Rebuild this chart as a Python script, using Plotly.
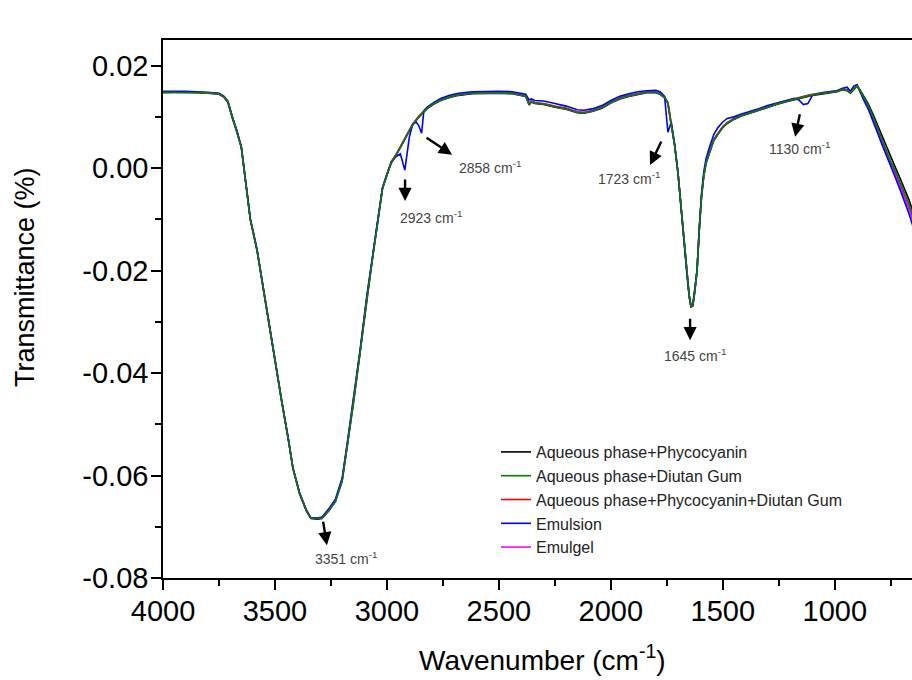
import plotly.graph_objects as go

# Wavenumber (cm^-1), descending
wavenumber = [4000, 3900, 3800, 3750, 3730, 3710, 3690, 3670, 3650, 3630, 3610,
              3580, 3540, 3500, 3470, 3440, 3420, 3390, 3360, 3340, 3310,
              3290, 3260, 3230, 3200, 3175, 3150, 3120, 3090, 3060, 3040,
              3020, 3000, 2980, 2960, 2940, 2920, 2900, 2885, 2870, 2858,
              2845, 2835, 2820, 2790, 2760, 2720, 2680, 2620, 2560, 2500,
              2440, 2380, 2365, 2355, 2340, 2300, 2250, 2200, 2150, 2120,
              2080, 2040, 2000, 1960, 1920, 1880, 1840, 1800, 1780, 1760,
              1745, 1730, 1715, 1700, 1690, 1680, 1670, 1660, 1650, 1642,
              1634, 1625, 1615, 1605, 1595, 1585, 1575, 1560, 1540, 1520,
              1500, 1480, 1450, 1420, 1380, 1340, 1300, 1260, 1220, 1180,
              1160, 1140, 1120, 1100, 1060, 1020, 990, 965, 945, 930,
              915, 900, 885, 870, 850, 830, 810, 790, 770, 750,
              730, 710, 690, 670, 650]

aq_phycocyanin = [
    0.0147, 0.0148, 0.0146, 0.0144, 0.0139, 0.0128, 0.0097, 0.0071, 0.0040, -0.0031, -0.0101,
    -0.0161, -0.0271, -0.0376, -0.0456, -0.0531, -0.0586, -0.0636, -0.0669, -0.0684, -0.0685,
    -0.0684, -0.0669, -0.0651, -0.0611, -0.0536, -0.0461, -0.0360, -0.0256, -0.0161, -0.0101,
    -0.0041, -0.0014, 0.0011, 0.0024, 0.0041, 0.0057, 0.0072, 0.0084, 0.0093, 0.0099,
    0.0105, 0.0110, 0.0116, 0.0125, 0.0132, 0.0138, 0.0142, 0.0145, 0.0146, 0.0146,
    0.0145, 0.0140, 0.0123, 0.0129, 0.0126, 0.0124, 0.0119, 0.0115, 0.0108, 0.0107,
    0.0111, 0.0117, 0.0127, 0.0135, 0.0140, 0.0144, 0.0147, 0.0147, 0.0144, 0.0137,
    0.0126, 0.0084, 0.0044, -0.0011, -0.0061, -0.0116, -0.0161, -0.0211, -0.0251, -0.0271,
    -0.0269, -0.0241, -0.0201, -0.0121, -0.0056, -0.0016, 0.0009, 0.0029, 0.0054, 0.0067,
    0.0079, 0.0087, 0.0095, 0.0101, 0.0107, 0.0113, 0.0119, 0.0124, 0.0129, 0.0134,
    0.0136, 0.0138, 0.0140, 0.0142, 0.0145, 0.0147, 0.0149, 0.0153, 0.0151, 0.0146,
    0.0154, 0.0160, 0.0151, 0.0140, 0.0125, 0.0106, 0.0085, 0.0064, 0.0042, 0.0020,
    0.0002, -0.0018, -0.0038, -0.0060, -0.0086]

aq_diutan = [
    0.0148, 0.0148, 0.0147, 0.0145, 0.0140, 0.0129, 0.0098, 0.0072, 0.0040, -0.0030, -0.0100,
    -0.0160, -0.0270, -0.0375, -0.0455, -0.0530, -0.0585, -0.0635, -0.0668, -0.0683, -0.0684,
    -0.0683, -0.0668, -0.0650, -0.0610, -0.0535, -0.0460, -0.0360, -0.0255, -0.0160, -0.0100,
    -0.0040, -0.0013, 0.0012, 0.0025, 0.0042, 0.0058, 0.0073, 0.0085, 0.0094, 0.0100,
    0.0106, 0.0111, 0.0117, 0.0126, 0.0133, 0.0139, 0.0143, 0.0146, 0.0147, 0.0147,
    0.0146, 0.0141, 0.0124, 0.0130, 0.0127, 0.0125, 0.0120, 0.0116, 0.0109, 0.0108,
    0.0112, 0.0118, 0.0128, 0.0136, 0.0141, 0.0145, 0.0148, 0.0148, 0.0145, 0.0138,
    0.0128, 0.0085, 0.0045, -0.0010, -0.0060, -0.0115, -0.0160, -0.0210, -0.0250, -0.0270,
    -0.0268, -0.0240, -0.0200, -0.0120, -0.0055, -0.0015, 0.0010, 0.0030, 0.0055, 0.0068,
    0.0080, 0.0088, 0.0096, 0.0102, 0.0108, 0.0114, 0.0120, 0.0125, 0.0130, 0.0135,
    0.0137, 0.0139, 0.0141, 0.0143, 0.0146, 0.0148, 0.0150, 0.0154, 0.0152, 0.0147,
    0.0155, 0.0161, 0.0150, 0.0138, 0.0122, 0.0102, 0.0080, 0.0058, 0.0035, 0.0013,
    -0.0005, -0.0025, -0.0045, -0.0068, -0.0095]

aq_phyco_diutan = [
    0.0148, 0.0149, 0.0147, 0.0145, 0.0141, 0.0130, 0.0099, 0.0073, 0.0041, -0.0029, -0.0099,
    -0.0159, -0.0269, -0.0374, -0.0454, -0.0529, -0.0584, -0.0634, -0.0667, -0.0682, -0.0683,
    -0.0682, -0.0667, -0.0649, -0.0609, -0.0534, -0.0459, -0.0359, -0.0254, -0.0159, -0.0099,
    -0.0039, -0.0012, 0.0013, 0.0026, 0.0043, 0.0059, 0.0074, 0.0086, 0.0095, 0.0101,
    0.0107, 0.0112, 0.0118, 0.0127, 0.0134, 0.0140, 0.0144, 0.0147, 0.0148, 0.0148,
    0.0147, 0.0142, 0.0127, 0.0131, 0.0128, 0.0126, 0.0121, 0.0117, 0.0110, 0.0109,
    0.0113, 0.0119, 0.0129, 0.0137, 0.0142, 0.0146, 0.0149, 0.0149, 0.0146, 0.0139,
    0.0127, 0.0086, 0.0046, -0.0009, -0.0059, -0.0114, -0.0159, -0.0209, -0.0249, -0.0269,
    -0.0267, -0.0239, -0.0199, -0.0119, -0.0054, -0.0014, 0.0011, 0.0031, 0.0056, 0.0069,
    0.0081, 0.0089, 0.0097, 0.0103, 0.0109, 0.0115, 0.0121, 0.0126, 0.0131, 0.0136,
    0.0138, 0.0140, 0.0142, 0.0144, 0.0147, 0.0149, 0.0151, 0.0155, 0.0153, 0.0148,
    0.0156, 0.0161, 0.0149, 0.0136, 0.0119, 0.0099, 0.0076, 0.0054, 0.0031, 0.0009,
    -0.0010, -0.0031, -0.0052, -0.0076, -0.0104]

emulsion = [
    0.0150, 0.0150, 0.0148, 0.0146, 0.0141, 0.0130, 0.0099, 0.0073, 0.0041, -0.0029, -0.0099,
    -0.0159, -0.0269, -0.0374, -0.0454, -0.0529, -0.0584, -0.0634, -0.0667, -0.0682, -0.0683,
    -0.0681, -0.0665, -0.0646, -0.0605, -0.0530, -0.0455, -0.0355, -0.0250, -0.0155, -0.0097,
    -0.0038, -0.0012, 0.0012, 0.0022, 0.0028, -0.0004, 0.0060, 0.0086, 0.0090, 0.0083,
    0.0068, 0.0112, 0.0119, 0.0128, 0.0136, 0.0142, 0.0146, 0.0149, 0.0150, 0.0150,
    0.0149, 0.0144, 0.0133, 0.0135, 0.0132, 0.0131, 0.0126, 0.0121, 0.0114, 0.0113,
    0.0116, 0.0122, 0.0132, 0.0140, 0.0145, 0.0149, 0.0151, 0.0152, 0.0149, 0.0140,
    0.0070, 0.0090, 0.0046, -0.0009, -0.0059, -0.0114, -0.0159, -0.0209, -0.0249, -0.0269,
    -0.0267, -0.0239, -0.0199, -0.0117, -0.0050, -0.0008, 0.0018, 0.0040, 0.0066, 0.0080,
    0.0090, 0.0097, 0.0100, 0.0105, 0.0110, 0.0116, 0.0122, 0.0127, 0.0132, 0.0136,
    0.0133, 0.0124, 0.0126, 0.0142, 0.0147, 0.0149, 0.0151, 0.0156, 0.0158, 0.0150,
    0.0160, 0.0163, 0.0147, 0.0132, 0.0115, 0.0094, 0.0070, 0.0047, 0.0024, 0.0002,
    -0.0018, -0.0040, -0.0062, -0.0087, -0.0115]

emulgel = [
    0.0148, 0.0148, 0.0147, 0.0145, 0.0140, 0.0129, 0.0098, 0.0072, 0.0041, -0.0030, -0.0100,
    -0.0160, -0.0270, -0.0375, -0.0455, -0.0530, -0.0585, -0.0635, -0.0668, -0.0683, -0.0684,
    -0.0683, -0.0668, -0.0650, -0.0610, -0.0535, -0.0460, -0.0360, -0.0255, -0.0160, -0.0100,
    -0.0040, -0.0013, 0.0012, 0.0025, 0.0042, 0.0058, 0.0073, 0.0085, 0.0094, 0.0100,
    0.0106, 0.0111, 0.0117, 0.0126, 0.0133, 0.0139, 0.0143, 0.0146, 0.0147, 0.0147,
    0.0146, 0.0141, 0.0126, 0.0130, 0.0127, 0.0125, 0.0120, 0.0116, 0.0109, 0.0108,
    0.0112, 0.0118, 0.0128, 0.0136, 0.0141, 0.0145, 0.0148, 0.0148, 0.0145, 0.0137,
    0.0126, 0.0085, 0.0045, -0.0010, -0.0060, -0.0115, -0.0160, -0.0210, -0.0250, -0.0270,
    -0.0268, -0.0240, -0.0200, -0.0120, -0.0055, -0.0015, 0.0010, 0.0030, 0.0055, 0.0068,
    0.0080, 0.0088, 0.0096, 0.0102, 0.0108, 0.0114, 0.0120, 0.0125, 0.0130, 0.0135,
    0.0137, 0.0139, 0.0141, 0.0143, 0.0146, 0.0148, 0.0150, 0.0154, 0.0152, 0.0147,
    0.0155, 0.0161, 0.0148, 0.0135, 0.0118, 0.0098, 0.0075, 0.0052, 0.0029, 0.0007,
    -0.0012, -0.0033, -0.0054, -0.0078, -0.0102]

series_names = ["Aqueous phase+Phycocyanin", "Aqueous phase+Diutan Gum",
                "Aqueous phase+Phycocyanin+Diutan Gum", "Emulsion", "Emulgel"]
series_values = [aq_phycocyanin, aq_diutan, aq_phyco_diutan, emulsion, emulgel]
series_colors = ["#000000", "#007f00", "#ff0000", "#0000ff", "#ff00ff"]
draw_order = [0, 2, 4, 3, 1]

x_ticks = [4000, 3500, 3000, 2500, 2000, 1500, 1000]
y_ticks = [-0.08, -0.06, -0.04, -0.02, 0.00, 0.02]
y_tick_text = ["-0.08", "-0.06", "-0.04", "-0.02", "0.00", "0.02"]

# peak labels: (arrow head x, arrow head y, tail dx, tail dy, label x, label y, text)
peaks = [
    (3268, -0.0736, -4, -25, 3183, -0.0761, "3351"),
    (2919, -0.0064, 0, -23, 2803, -0.0096, "2923"),
    (2709, 0.0026, -27, -18, 2540, 0.0002, "2858"),
    (1825, 0.0006, 12, -25, 1919, -0.0019, "1723"),
    (1646, -0.0336, 0, -23, 1624, -0.0365, "1645"),
    (1177, 0.0061, 5, -24, 1159, 0.0039, "1130"),
]

FONT = "Liberation Sans"
fig = go.Figure()
for i in draw_order:
    assert len(series_values[i]) == len(wavenumber)
    fig.add_trace(go.Scatter(
        x=wavenumber, y=series_values[i], mode="lines", name=series_names[i],
        line=dict(color=series_colors[i], width=1.6),
        legendrank=i + 1))

for hx, hy, dx, dy, lx, ly, t in peaks:
    fig.add_annotation(x=hx, y=hy, ax=dx, ay=dy, text="", showarrow=True,
                       arrowhead=2, arrowsize=1.1, arrowwidth=2.4, arrowcolor="#000000")
    fig.add_annotation(x=lx, y=ly, text=t + " cm<sup>-1</sup>", showarrow=False,
                       font=dict(family=FONT, size=14, color="#444444"))

# axis titles
fig.add_annotation(xref="paper", yref="paper", x=0.5073, y=-0.1487,
                   xanchor="center", yanchor="middle",
                   text="Wavenumber (cm<sup>-1</sup>)", showarrow=False,
                   font=dict(family=FONT, size=28, color="black"))
fig.add_annotation(xref="paper", yref="paper", x=-0.1842, y=0.5595, textangle=-90,
                   xanchor="center", yanchor="middle",
                   text="Transmittance (%)", showarrow=False,
                   font=dict(family=FONT, size=27, color="black"))

axis_common = dict(showline=True, linecolor="black", linewidth=1.5, ticks="outside",
                   ticklen=10, tickwidth=1.5, tickcolor="black", showgrid=False,
                   zeroline=False, automargin=False,
                   tickfont=dict(family=FONT, size=29, color="black"))

fig.update_layout(
    width=912, height=680,
    margin=dict(l=163, r=0, t=40, b=102),
    plot_bgcolor="white", paper_bgcolor="white",
    xaxis=dict(range=[4000, 655], tickvals=x_ticks, mirror=True, ticklabelstandoff=-4,
               minor=dict(dtick=250, tick0=0, ticklen=6, tickwidth=1.5, ticks="outside", tickcolor="black"),
               **axis_common),
    yaxis=dict(range=[-0.08, 0.025], tickvals=y_ticks, ticktext=y_tick_text, ticklabelstandoff=-3,
               minor=dict(dtick=0.01, tick0=0, ticklen=6, tickwidth=1.5, ticks="outside", tickcolor="black"),
               **axis_common),
    legend=dict(x=0.4446, y=0.2658, xanchor="left", yanchor="top",
                bgcolor="rgba(0,0,0,0)",
                font=dict(family=FONT, size=16, color="#222222")),
    showlegend=True,
)

fig.write_html("out.html", config={"displayModeBar": False},
               post_script="document.body.style.margin='0';document.body.style.overflow='hidden';")
